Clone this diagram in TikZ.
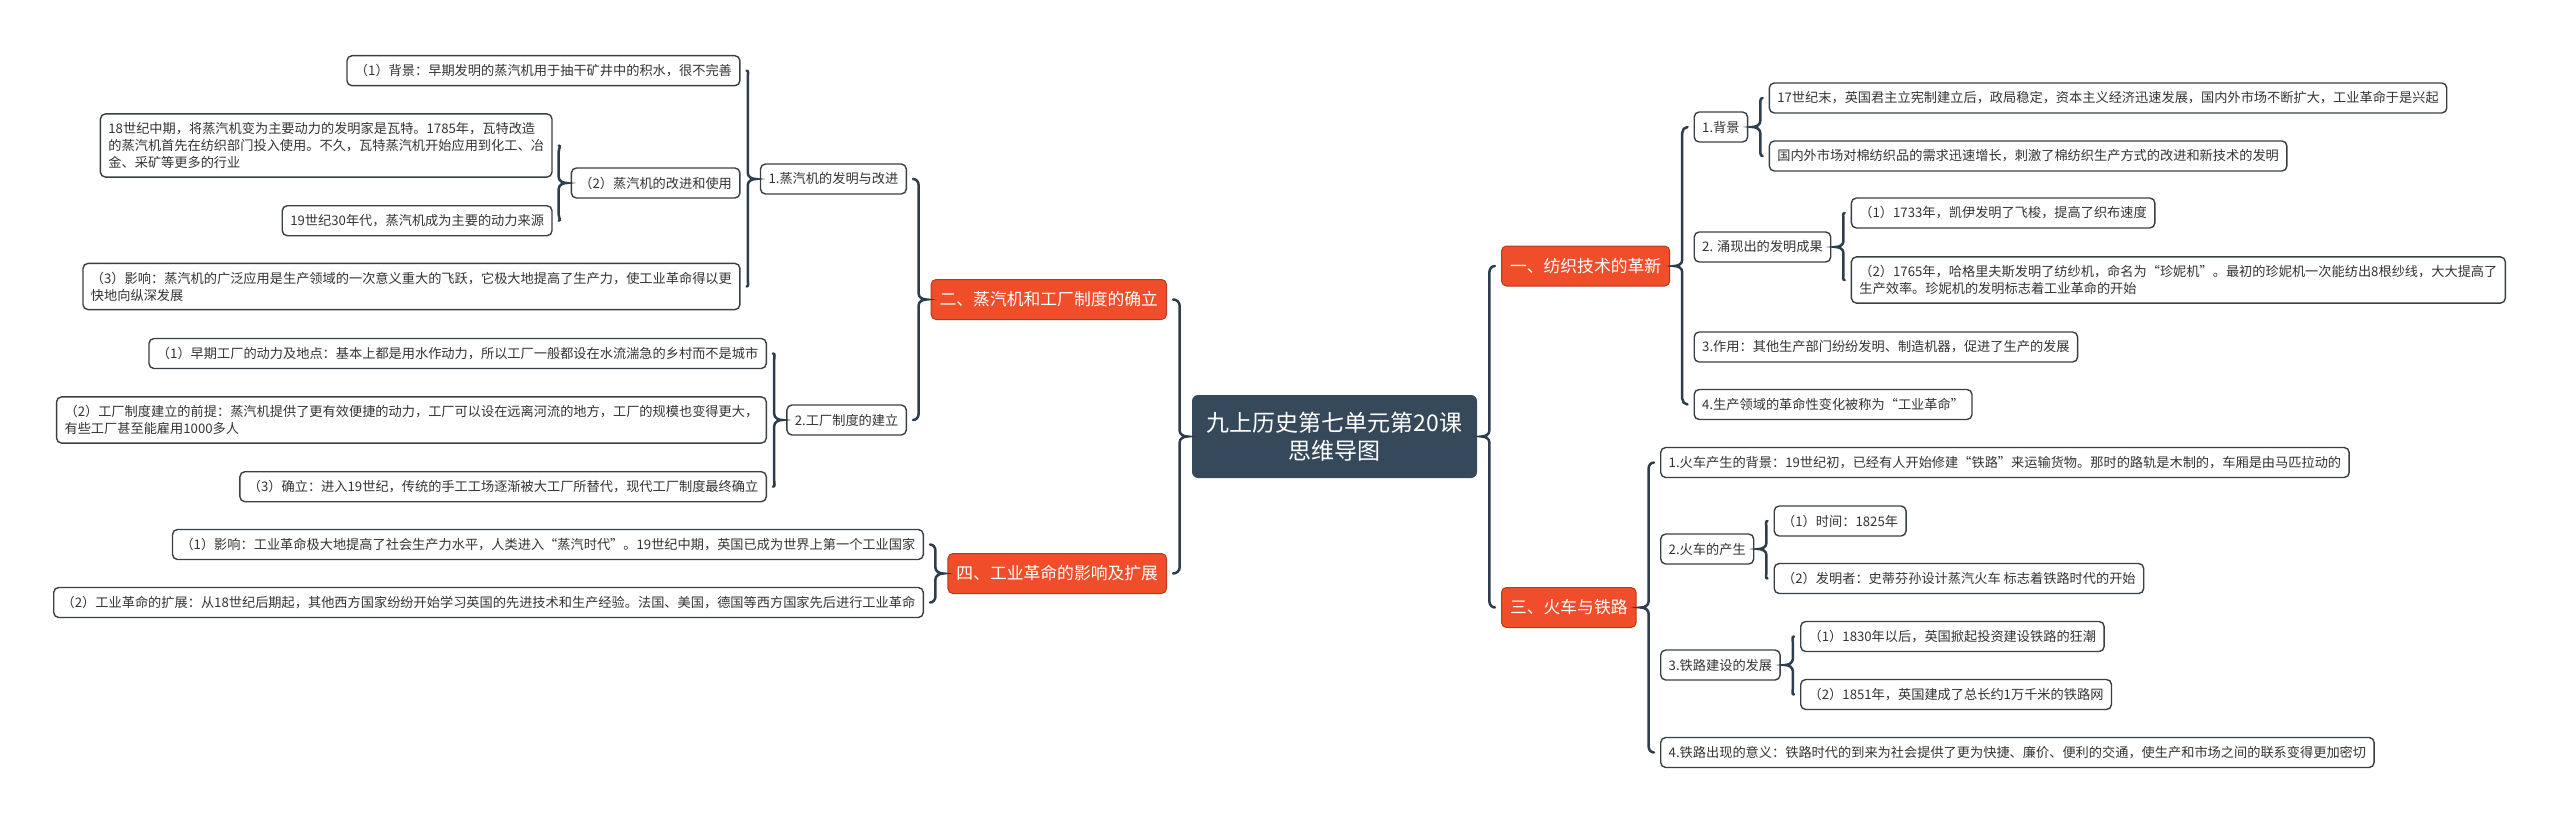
\documentclass[tikz,border=0pt]{standalone}
\usepackage{fontspec}
\setmainfont{Noto Sans CJK SC}
\usetikzlibrary{calc}

\definecolor{linkc}{HTML}{2E3D4C}
\definecolor{rootc}{HTML}{36495B}
\definecolor{topicc}{HTML}{F04E2B}
\definecolor{topicline}{HTML}{B8391F}
\definecolor{leafline}{HTML}{3A3F45}
\definecolor{textc}{HTML}{333333}

\tikzstyle{root}=[rectangle,rounded corners=3pt,fill=rootc,text=white,minimum width=142.5pt,minimum height=41.5pt,align=center,font=\fontsize{11.5pt}{14pt}\selectfont]
\tikzstyle{topic}=[rectangle,rounded corners=2.5pt,draw=topicline,line width=0.5pt,fill=topicc,text=white,minimum height=20pt,inner xsep=4.25pt,font=\fontsize{8.4pt}{10pt}\selectfont]
\tikzstyle{leaf}=[rectangle,rounded corners=2.5pt,draw=leafline,line width=0.7pt,fill=white,text=textc,minimum height=15pt,inner xsep=4pt,inner ysep=4.2pt,align=left,font=\fontsize{6.6pt}{8.5pt}\selectfont]
\tikzstyle{link}=[draw=linkc,line width=1.25pt,line cap=round]

% brace to children on the right / on the left
\newcommand{\linkR}[3]{%
  \draw[link] ($(#2.west)+(-3pt,0)$) to[out=180,in=90] ($(#1.east |- #2.west)+(6pt,-3pt)$)
    -- ($(#1.east)+(6pt,3pt)$) to[out=-90,in=0] ($(#1.east)+(2pt,0)$)
    to[out=0,in=90] ($(#1.east)+(6pt,-3pt)$)
    -- ($(#1.east |- #3.west)+(6pt,3pt)$) to[out=-90,in=180] ($(#3.west)+(-3pt,0)$);}
\newcommand{\linkL}[3]{%
  \draw[link] ($(#2.east)+(3pt,0)$) to[out=0,in=90] ($(#1.west |- #2.east)+(-6pt,-3pt)$)
    -- ($(#1.west)+(-6pt,3pt)$) to[out=-90,in=180] ($(#1.west)+(-2pt,0)$)
    to[out=180,in=90] ($(#1.west)+(-6pt,-3pt)$)
    -- ($(#1.west |- #3.east)+(-6pt,3pt)$) to[out=-90,in=0] ($(#3.east)+(3pt,0)$);}

\begin{document}
\begin{tikzpicture}[x=0.5pt,y=-0.5pt]
\useasboundingbox (0,0) rectangle (2560,824);

\node[root] (root) at (1334.5,436.5) {九上历史第七单元第20课\\思维导图};

\foreach \pos/\name/\txt in {{(1501,266)/r1/一、纺织技术的革新}, {(1501,607.5)/r2/三、火车与铁路}}
\node[topic,anchor=west] (\name) at \pos {\txt};
\foreach \pos/\name/\txt in {{(1167,299.5)/l1/二、蒸汽机和工厂制度的确立}, {(1167,573.5)/l2/四、工业革命的影响及扩展}}
\node[topic,anchor=east] (\name) at \pos {\txt};

% right side
\foreach \pos/\name/\txt in {
 {(1693.5,127)/r11/1.背景},
 {(1768.6,98)/r111/17世纪末，英国君主立宪制建立后，政局稳定，资本主义经济迅速发展，国内外市场不断扩大，工业革命于是兴起},
 {(1768.6,156)/r112/国内外市场对棉纺织品的需求迅速增长，刺激了棉纺织生产方式的改进和新技术的发明},
 {(1693.5,247)/r12/2. 涌现出的发明成果},
 {(1850.7,213)/r121/（1）1733年，凯伊发明了飞梭，提高了织布速度},
 {(1850.7,280)/r122/（2）1765年，哈格里夫斯发明了纺纱机，命名为“珍妮机”。最初的珍妮机一次能纺出8根纱线，大大提高了\\生产效率。珍妮机的发明标志着工业革命的开始},
 {(1693.5,347)/r13/3.作用：其他生产部门纷纷发明、制造机器，促进了生产的发展},
 {(1693.5,404.5)/r14/4.生产领域的革命性变化被称为“工业革命”},
 {(1660,462.5)/r21/1.火车产生的背景：19世纪初，已经有人开始修建“铁路”来运输货物。那时的路轨是木制的，车厢是由马匹拉动的},
 {(1660,549)/r22/2.火车的产生},
 {(1773.5,521)/r221/（1）时间：1825年},
 {(1773.5,578.5)/r222/（2）发明者：史蒂芬孙设计蒸汽火车 标志着铁路时代的开始},
 {(1660,665)/r23/3.铁路建设的发展},
 {(1800,636.5)/r231/（1）1830年以后，英国掀起投资建设铁路的狂潮},
 {(1800,694.5)/r232/（2）1851年，英国建成了总长约1万千米的铁路网},
 {(1660,752.5)/r24/4.铁路出现的意义：铁路时代的到来为社会提供了更为快捷、廉价、便利的交通，使生产和市场之间的联系变得更加密切}}
\node[leaf,anchor=west] (\name) at \pos {\txt};

% left side
\foreach \pos/\name/\txt in {
 {(907,179)/l11/1.蒸汽机的发明与改进},
 {(740.6,70.7)/l111/（1）背景：早期发明的蒸汽机用于抽干矿井中的积水，很不完善},
 {(740.6,183)/l112/（2）蒸汽机的改进和使用},
 {(552.7,145.5)/l1121/18世纪中期，将蒸汽机变为主要动力的发明家是瓦特。1785年，瓦特改造\\的蒸汽机首先在纺织部门投入使用。不久，瓦特蒸汽机开始应用到化工、冶\\金、采矿等更多的行业},
 {(552.7,220.7)/l1122/19世纪30年代，蒸汽机成为主要的动力来源},
 {(740.6,286.5)/l113/（3）影响：蒸汽机的广泛应用是生产领域的一次意义重大的飞跃，它极大地提高了生产力，使工业革命得以更\\快地向纵深发展},
 {(907,420)/l12/2.工厂制度的建立},
 {(767,353.5)/l121/（1）早期工厂的动力及地点：基本上都是用水作动力，所以工厂一般都设在水流湍急的乡村而不是城市},
 {(767,420)/l122/（2）工厂制度建立的前提：蒸汽机提供了更有效便捷的动力，工厂可以设在远离河流的地方，工厂的规模也变得更大，\\有些工厂甚至能雇用1000多人},
 {(767,486.7)/l123/（3）确立：进入19世纪，传统的手工工场逐渐被大工厂所替代，现代工厂制度最终确立},
 {(924,544.5)/l21/（1）影响：工业革命极大地提高了社会生产力水平，人类进入“蒸汽时代”。19世纪中期，英国已成为世界上第一个工业国家},
 {(924,602.5)/l22/（2）工业革命的扩展：从18世纪后期起，其他西方国家纷纷开始学习英国的先进技术和生产经验。法国、美国，德国等西方国家先后进行工业革命}}
\node[leaf,anchor=east] (\name) at \pos {\txt};

\foreach \p/\a/\b in {root/r1/r2, r1/r11/r14, r11/r111/r112, r12/r121/r122, r2/r21/r24, r22/r221/r222, r23/r231/r232}
\linkR{\p}{\a}{\b};
\foreach \p/\a/\b in {root/l1/l2, l1/l11/l12, l11/l111/l113, l112/l1121/l1122, l12/l121/l123, l2/l21/l22}
\linkL{\p}{\a}{\b};
\end{tikzpicture}
\end{document}
